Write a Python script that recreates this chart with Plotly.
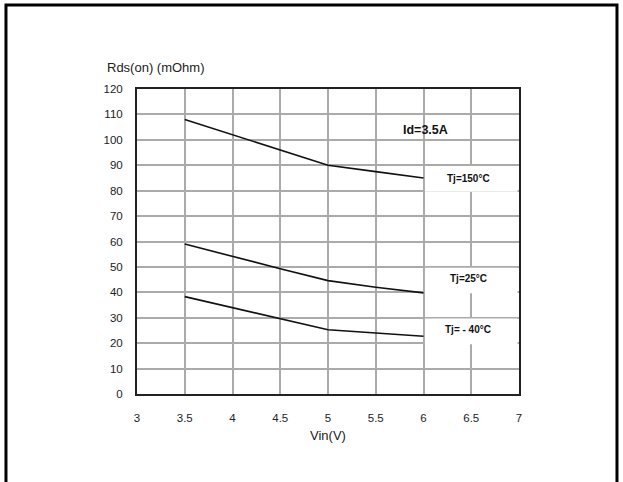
import plotly.graph_objects as go

vin = [3.5, 4, 4.5, 5, 5.5, 6]
r_150 = [108, 102, 96, 90, 87.5, 85]
r_25 = [59, 54, 49.3, 44.6, 42, 39.8]
r_m40 = [38.3, 34, 29.6, 25.3, 24, 22.7]

x_ticks = [3, 3.5, 4, 4.5, 5, 5.5, 6, 6.5, 7]
x_tick_text = ["3", "3.5", "4", "4.5", "5", "5.5", "6", "6.5", "7"]
y_ticks = list(range(0, 121, 10))

labels = ["Tj=150°C", "Tj=25°C", "Tj= - 40°C"]
label_y = [84.8, 45.4, 25.3]
box_y = [(79.6, 89.7), (39.6, 49.7), (19.6, 29.7)]

FONT = "Liberation Sans, Arial, sans-serif"

fig = go.Figure()
for ys in (r_150, r_25, r_m40):
    fig.add_trace(go.Scatter(x=vin, y=ys, mode="lines",
                             line=dict(color="#111111", width=1.6, shape="linear"),
                             showlegend=False, hoverinfo="skip"))

shapes = []
for (y0, y1) in box_y:
    shapes.append(dict(type="rect", xref="x", yref="y", x0=6.015, x1=6.985,
                       y0=y0, y1=y1, fillcolor="white", line=dict(width=0),
                       layer="between"))
# outer frame
shapes.append(dict(type="path", xref="paper", yref="paper",
                   path="M -0.343 -0.35 L -0.343 1.2755 L 1.2565 1.2755 L 1.2565 -0.35",
                   line=dict(color="black", width=3)))

annotations = []
for t, yv in zip(labels, label_y):
    annotations.append(dict(x=6.47, y=yv, xref="x", yref="y", text="<b>" + t + "</b>",
                            showarrow=False, font=dict(family=FONT, size=10, color="#111")))
annotations.append(dict(x=6.02, y=103.8, xref="x", yref="y", text="<b>Id=3.5A</b>",
                        showarrow=False, font=dict(family=FONT, size=12.5, color="#111")))
annotations.append(dict(x=(105 - 137) / 382, y=(394 - 68) / 305, xref="paper", yref="paper",
                        text="Rds(on) (mOhm)", showarrow=False, xanchor="left", yanchor="middle",
                        font=dict(family=FONT, size=13, color="#222")))

fig.update_layout(
    width=623, height=482,
    margin=dict(l=137, r=104, t=89, b=88),
    paper_bgcolor="white", plot_bgcolor="white",
    font=dict(family=FONT, size=12, color="#222"),
    shapes=shapes, annotations=annotations,
    xaxis=dict(range=[3, 7], tickvals=x_ticks, ticktext=x_tick_text,
               showgrid=True, gridcolor="#aaaaaa", gridwidth=1.5,
               showline=True, linecolor="#222", linewidth=2, mirror=True,
               zeroline=False, ticks="", ticklabelstandoff=12,
               title=dict(text="Vin(V)", font=dict(family=FONT, size=13), standoff=8),
               tickfont=dict(family=FONT, size=11.5)),
    yaxis=dict(range=[0, 120], tickvals=y_ticks,
               showgrid=True, gridcolor="#aaaaaa", gridwidth=1.5,
               showline=True, linecolor="#222", linewidth=2, mirror=True,
               zeroline=False, ticks="", ticklabelstandoff=10,
               tickfont=dict(family=FONT, size=11.5)),
)

fig.write_html("out.html", config={"displayModeBar": False},
               post_script="document.body.style.margin='0';document.body.style.overflow='hidden';")
